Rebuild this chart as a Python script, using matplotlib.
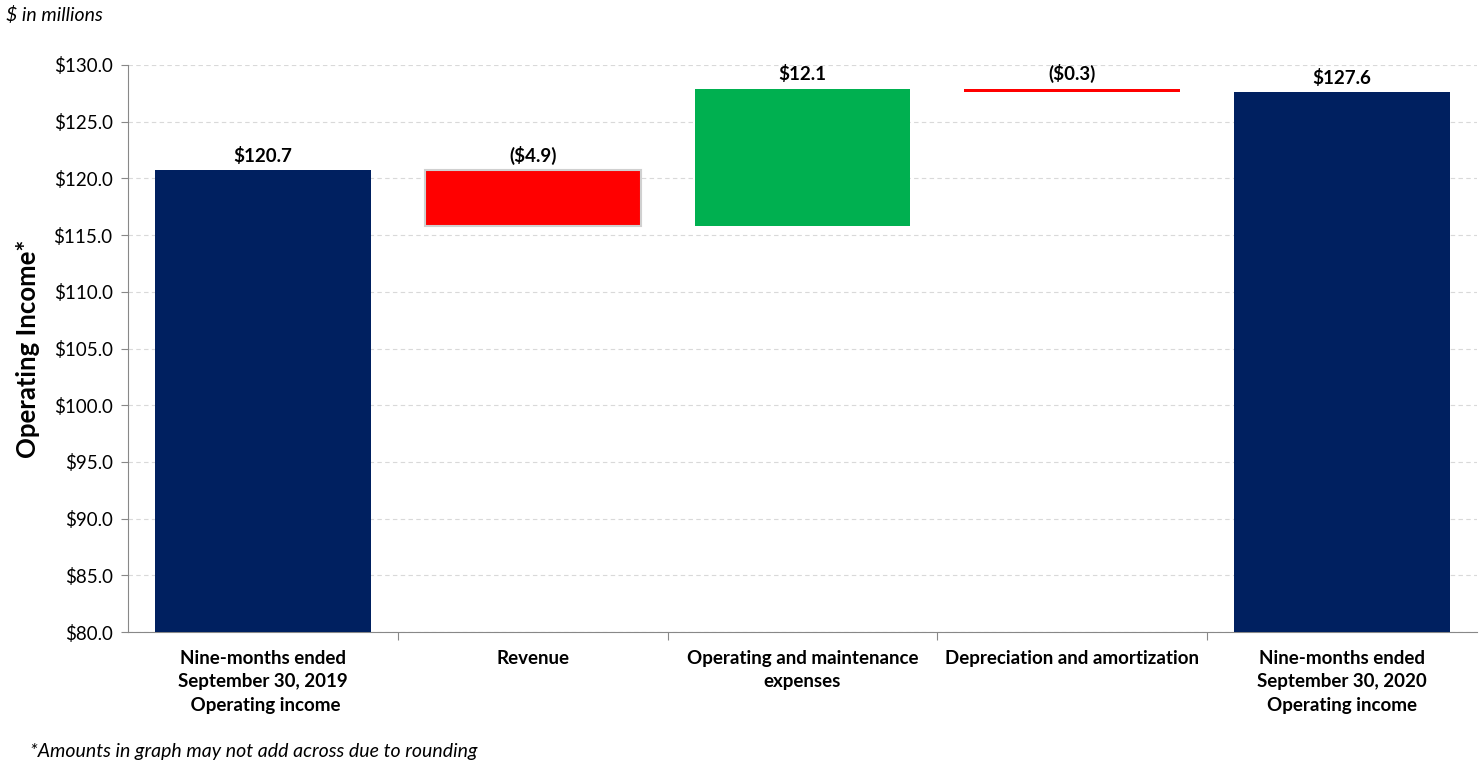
import numpy as np
import matplotlib.pyplot as plt

plt.rcParams['font.family'] = ['Lato', 'DejaVu Sans']

# Waterfall data ($ in millions)
categories = ["Nine-months ended\nSeptember 30, 2019\n Operating income",
              "Revenue",
              "Operating and maintenance\nexpenses",
              "Depreciation and amortization",
              "Nine-months ended\nSeptember 30, 2020\nOperating income"]
start_value = 120.7
changes = [-4.9, 12.1, -0.3]
end_value = 127.6
value_labels = ["$120.7", "($4.9)", "$12.1", "($0.3)", "$127.6"]

NAVY = "#002060"
RED = "#ff0000"
GREEN = "#00b050"


def build_bars():
    bottoms, heights, colors = [], [], []
    bottoms.append(80.0)
    heights.append(start_value - 80.0)
    colors.append(NAVY)
    level = start_value
    for c in changes:
        lo = min(level, level + c)
        bottoms.append(lo)
        heights.append(abs(c))
        colors.append(GREEN if c > 0 else RED)
        level += c
    bottoms.append(80.0)
    heights.append(end_value - 80.0)
    colors.append(NAVY)
    return bottoms, heights, colors


def main():
    fig = plt.figure(figsize=(14.81, 7.68), dpi=100)
    ax = fig.add_axes([0.0864, 0.177, 0.9109, 0.7384])

    bottoms, heights, colors = build_bars()
    x = np.arange(len(categories))
    for i in x:
        edge = "#d0d0d0" if colors[i] == RED and heights[i] > 1 else "none"
        ax.bar(i, heights[i], bottom=bottoms[i], width=0.8, color=colors[i],
               edgecolor=edge, linewidth=1.5, zorder=3)
        ax.text(i, bottoms[i] + heights[i] + 0.5, value_labels[i],
                ha="center", va="bottom", fontsize=13.5, fontweight="bold", zorder=4)

    ax.set_xlim(-0.5, len(categories) - 0.5)
    ax.set_ylim(80, 130)
    ax.set_yticks(np.arange(80, 130.1, 5))
    ax.set_yticklabels([f"${v:.1f}" for v in np.arange(80, 130.1, 5)], fontsize=13.5)
    ax.yaxis.grid(True, linestyle=(0, (4, 3)), color="#d9d9d9", linewidth=0.8, zorder=0)

    # category boundary ticks
    ax.set_xticks(np.arange(0.5, len(categories) - 0.5, 1), minor=False)
    ax.set_xticklabels([])
    ax.set_xticks(x, minor=True)
    ax.set_xticklabels(categories, minor=True, fontsize=13.5, fontweight="bold",
                       linespacing=1.45)
    ax.tick_params(axis="x", which="minor", length=0, pad=13)
    ax.tick_params(axis="x", which="major", length=6, color="#888888")
    ax.tick_params(axis="y", length=5, color="#888888", pad=6)

    for side in ["top", "right"]:
        ax.spines[side].set_visible(False)
    for side in ["left", "bottom"]:
        ax.spines[side].set_color("#888888")

    ax.set_ylabel("Operating Income*", fontsize=18.5, fontweight="bold", labelpad=10)

    fig.text(0.004, 0.98, "$ in millions", fontsize=14, style="italic", va="center")
    fig.text(0.02, 0.022, "*Amounts in graph may not add across due to rounding",
             fontsize=14, style="italic", va="center")

    fig.savefig("out.png", dpi=100)


if __name__ == "__main__":
    main()
